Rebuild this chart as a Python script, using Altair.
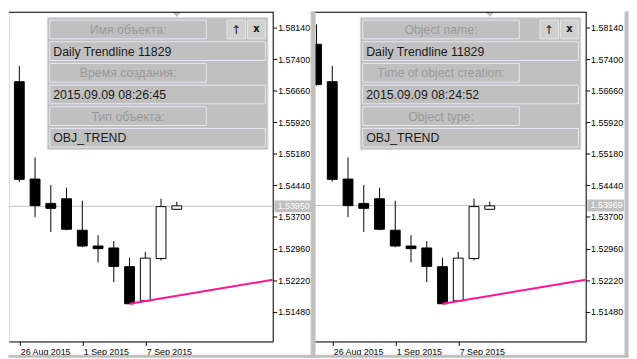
import altair as alt
import pandas as pd

# ---------------- data ----------------
bar_index = [0, 1, 2, 3, 4, 5, 6, 7, 8, 9, 10, 11]
bar_dates = ["25 Aug 2015", "26 Aug 2015", "27 Aug 2015", "28 Aug 2015", "31 Aug 2015",
             "1 Sep 2015", "2 Sep 2015", "3 Sep 2015", "4 Sep 2015", "7 Sep 2015",
             "8 Sep 2015", "9 Sep 2015"]
opens = [1.57748, 1.56871, 1.54588, 1.54018, 1.54126, 1.53388, 1.53019, 1.52973,
         1.52535, 1.51734, 1.52726, 1.53879]
highs = [1.58216, 1.57240, 1.55095, 1.54449, 1.54387, 1.54080, 1.53273, 1.53135,
         1.52742, 1.52880, 1.54126, 1.54057]
lows = [1.56780, 1.54525, 1.53695, 1.53349, 1.53388, 1.52989, 1.52634, 1.52172,
        1.51665, 1.51734, 1.52680, 1.53879]
closes = [1.56802, 1.54581, 1.53965, 1.53902, 1.53411, 1.53019, 1.52957, 1.52541,
          1.51665, 1.52735, 1.53942, 1.53960]

trend_index = [8, 17.09375]
trend_price = [1.51665, 1.52228]

price_ticks = [1.5148, 1.5222, 1.5296, 1.5370, 1.5444, 1.5518, 1.5592, 1.5666, 1.5740, 1.5814]
date_tick_index = [1, 5, 9]
date_tick_labels = ["26 Aug 2015", "1 Sep 2015", "7 Sep 2015"]

left_headers = ["Имя объекта:", "Время создания:", "Тип объекта:"]
left_values = ["Daily Trendline 11829", "2015.09.09 08:26:45", "OBJ_TREND"]
left_bid = 1.53950

right_headers = ["Object name:", "Time of object creation:", "Object type:"]
right_values = ["Daily Trendline 11829", "2015.09.09 08:24:52", "OBJ_TREND"]
right_bid = 1.53969

marker_index = [11]

# ---------------- layout / style ----------------
FONT = "Liberation Sans"
H = 335
Y_DOM = [1.507812, 1.585091]
GRAY = "#c0c0c0"

candles = pd.DataFrame({"i": bar_index, "date": bar_dates, "open": opens,
                        "high": highs, "low": lows, "close": closes})
trend = pd.DataFrame({"i": trend_index, "p": trend_price})
one = pd.DataFrame({"k": [0]})

label_expr = ("[" + ",".join("'%s'" % s for s in date_tick_labels) + "][indexof(["
              + ",".join(str(v) for v in date_tick_index) + "], datum.value)]")


def panel(headers, values, bid, width, xdom, dx, right_panel):
    xs = alt.Scale(domain=xdom, nice=False, zero=False, padding=0)
    ys = alt.Scale(domain=Y_DOM, nice=False, zero=False, padding=0)
    x_axis = alt.Axis(values=date_tick_index, labelExpr=label_expr, tickSize=4,
                      tickColor="black", domainColor="black", labelColor="black",
                      labelFont=FONT, labelFontSize=9, labelAlign="left",
                      labelBaseline="middle", labelPadding=6, labelOffset=1,
                      grid=False, title=None, labelOverlap=False, labelFlush=False)
    y_axis = alt.Axis(orient="right", values=price_ticks, format=".5f", tickSize=4,
                      tickColor="black", domainColor="black", labelColor="black",
                      labelFont=FONT, labelFontSize=9, labelPadding=1,
                      labelBaseline="middle", grid=False, title=None,
                      labelOverlap=False, labelFlush=False)

    layers = []
    bid_df = pd.DataFrame({"p": [bid], "lab": ["%.5f" % bid]})
    # bid line
    layers.append(alt.Chart(bid_df).mark_rule(color=GRAY, strokeWidth=1).encode(
        y=alt.Y("p:Q", scale=ys, axis=y_axis)))
    # wicks
    layers.append(alt.Chart(candles).mark_rule(color="black", strokeWidth=1, clip=True).encode(
        x=alt.X("i:Q", scale=xs, axis=x_axis),
        y=alt.Y("low:Q", scale=ys, axis=y_axis), y2="high:Q"))
    # bodies
    layers.append(alt.Chart(candles).mark_bar(width=10, stroke="black", strokeWidth=1,
                                              clip=True).encode(
        x=alt.X("i:Q", scale=xs, axis=x_axis),
        y=alt.Y("open:Q", scale=ys, axis=y_axis), y2="close:Q",
        fill=alt.condition("datum.close >= datum.open", alt.value("white"), alt.value("black"))))
    # trendline
    layers.append(alt.Chart(trend).mark_line(color="#ff1493", strokeWidth=2, clip=True).encode(
        x=alt.X("i:Q", scale=xs, axis=x_axis), y=alt.Y("p:Q", scale=ys, axis=y_axis)))
    # top marker
    layers.append(alt.Chart(pd.DataFrame({"i": marker_index})).mark_point(
        shape="M-1,0L1,0L0,1Z", filled=True, fill=GRAY, strokeWidth=0, size=100, opacity=1
    ).encode(x=alt.X("i:Q", scale=xs, axis=x_axis), y=alt.value(0)))
    # top border
    layers.append(alt.Chart(one).mark_rule(color="black", strokeWidth=1).encode(
        x=alt.value(0), x2=alt.value(width + 1), y=alt.value(0.5)))

    # info box
    def rect(x1, y1, x2, y2, fill, stroke):
        return alt.Chart(one).mark_rect(fill=fill, stroke=stroke, strokeWidth=1).encode(
            x=alt.value(x1 + dx), x2=alt.value(x2 + dx), y=alt.value(y1), y2=alt.value(y2))

    layers.append(rect(47, 6, 271, 140, GRAY, "#d6d6d6"))
    for k in range(3):
        top_h = 8.5 + 44 * k
        top_v = top_h + 22
        layers.append(rect(49.5, top_h, 208.5, top_h + 19, GRAY, "#e8e8f6"))
        layers.append(alt.Chart(pd.DataFrame({"t": [headers[k]]})).mark_text(
            font=FONT, fontSize=12.5, color="#9a9a9a", align="center", baseline="middle"
        ).encode(text="t:N", x=alt.value(129 + dx), y=alt.value(top_h + 10)))
        layers.append(rect(49.5, top_v, 268.5, top_v + 19, GRAY, "#e8e8f6"))
        layers.append(alt.Chart(pd.DataFrame({"t": [values[k]]})).mark_text(
            font=FONT, fontSize=12.5, color="#1a1a1a", align="left", baseline="middle"
        ).encode(text="t:N", x=alt.value(53 + dx), y=alt.value(top_v + 10)))
    # buttons
    layers.append(rect(229.5, 8.5, 248.5, 27.5, "#d0d0d0", "#e6e6e6"))
    layers.append(rect(250.5, 8.5, 268.5, 27.5, "#d0d0d0", "#e6e6e6"))
    layers.append(alt.Chart(pd.DataFrame({"t": ["↑"]})).mark_text(
        font="DejaVu Sans", fontSize=12, color="#202020", align="center", baseline="middle"
    ).encode(text="t:N", x=alt.value(239 + dx), y=alt.value(18.5)))
    layers.append(alt.Chart(pd.DataFrame({"t": ["x"]})).mark_text(
        font="DejaVu Sans", fontSize=10, fontWeight="bold", color="#101010", align="center",
        baseline="middle").encode(text="t:N", x=alt.value(259.5 + dx), y=alt.value(17.5)))

    # bid price label on the axis
    layers.append(alt.Chart(bid_df).mark_rect(fill=GRAY, yOffset=-6, y2Offset=6).encode(
        y=alt.Y("p:Q", scale=ys, axis=y_axis), y2="p:Q",
        x=alt.value(width + 1.7), x2=alt.value(width + 39)))
    layers.append(alt.Chart(bid_df).mark_text(font=FONT, fontSize=9, color="white",
                                              align="left", baseline="middle").encode(
        y=alt.Y("p:Q", scale=ys, axis=y_axis), text="lab:N", x=alt.value(width + 5)))

    # window frame strips
    if right_panel:
        layers.append(rect(-3, 0, 1, H + 16, GRAY, GRAY))
        layers.append(rect(width + 40, 0, width + 43, H + 16, GRAY, GRAY))
        layers.append(rect(-3, H + 14, width + 43, H + 16, GRAY, GRAY))
    else:
        layers.append(rect(8, H + 14, width + 47, H + 16, GRAY, GRAY))

    return alt.layer(*layers).properties(width=width, height=H)


left = panel(left_headers, left_values, left_bid, 268, [0.34375, 17.09375], -8, False)
right = panel(right_headers, right_values, right_bid, 276, [-0.15625, 17.09375], 0, True)

chart = alt.hconcat(left, right, spacing=42, bounds="flush", padding=0).configure_view(
    stroke="transparent", fill="white").configure(background="white")

chart.save("out.html", embed_options={"renderer": "svg", "actions": False})
